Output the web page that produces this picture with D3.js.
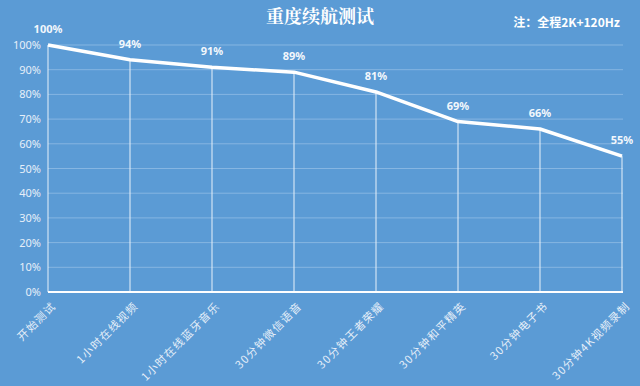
<!DOCTYPE html>
<html>
<head>
<meta charset="utf-8">
<script src="https://cdn.jsdelivr.net/npm/d3@7"></script>
<style>
  html, body { margin: 0; padding: 0; background: #5b9bd5; }
  svg { display: block; }
</style>
</head>
<body>
<div id="chart"></div>
<script>
"use strict"

// chart data
var categories = ["开始测试", "1小时在线视频", "1小时在线蓝牙音乐", "30分钟微信语音",
                  "30分钟王者荣耀", "30分钟和平精英", "30分钟电子书", "30分钟4K视频录制"]
var battery = [100, 94, 91, 89, 81, 69, 66, 55]
var y_ticks = [0, 10, 20, 30, 40, 50, 60, 70, 80, 90, 100]
var title_text = "重度续航测试"
var note_text = "注：全程2K+120Hz"

var settings = {
    width: 640,
    height: 386,
    left: 48,
    right: 622,
    top: 45,
    bottom: 292
}

var svg = d3.select("#chart").append("svg")
    .attr("width", settings.width)
    .attr("height", settings.height)

svg.append("rect")
    .attr("width", settings.width)
    .attr("height", settings.height)
    .attr("fill", "#5b9bd5")

var x = d3.scalePoint()
    .domain(categories)
    .range([settings.left, settings.right])

var y = d3.scaleLinear()
    .domain([0, 100])
    .range([settings.bottom, settings.top])

// gridlines
svg.append("g")
    .selectAll("line")
    .data(y_ticks.filter(function (d) { return d > 0 }))
    .enter()
    .append("line")
    .attr("x1", settings.left)
    .attr("x2", settings.right + 1)
    .attr("y1", function (d) { return y(d) })
    .attr("y2", function (d) { return y(d) })
    .attr("stroke", "#86b6e2")
    .attr("stroke-width", 1)

// y axis labels
var yaxis = d3.axisLeft(y)
    .tickValues(y_ticks)
    .tickFormat(function (d) { return d + "%" })
    .tickSize(0)
    .tickPadding(7)

var gy = svg.append("g")
    .attr("transform", "translate(" + settings.left + ",0)")
    .call(yaxis)
gy.select(".domain").remove()
gy.selectAll("text")
    .attr("fill", "#e6eff9")
    .attr("font-family", "'Noto Sans', sans-serif")
    .attr("font-size", 11)

// drop lines
svg.append("g")
    .selectAll("line")
    .data(battery)
    .enter()
    .append("line")
    .attr("x1", function (d, i) { return x(categories[i]) })
    .attr("x2", function (d, i) { return x(categories[i]) })
    .attr("y1", function (d) { return y(d) })
    .attr("y2", settings.bottom)
    .attr("stroke", "#e8f1fa")
    .attr("stroke-width", 1)

// x axis baseline
svg.append("line")
    .attr("x1", settings.left)
    .attr("x2", settings.right + 1)
    .attr("y1", settings.bottom)
    .attr("y2", settings.bottom)
    .attr("stroke", "#ffffff")
    .attr("stroke-width", 2)

// x axis labels, rotated
svg.append("g")
    .selectAll("text")
    .data(categories)
    .enter()
    .append("text")
    .attr("transform", function (d) {
        return "translate(" + (x(d) + 6) + "," + (settings.bottom + 12) + ") rotate(-45)"
    })
    .attr("text-anchor", "end")
    .attr("dy", "0.35em")
    .attr("fill", "#e6eff9")
    .attr("font-family", "'Noto Sans CJK SC', sans-serif")
    .attr("font-size", 11)
    .attr("letter-spacing", 1.3)
    .text(function (d) { return d })

// the line
var linefunc = d3.line()
    .x(function (d, i) { return x(categories[i]) })
    .y(function (d) { return y(d) })

svg.append("path")
    .attr("d", linefunc(battery))
    .attr("fill", "none")
    .attr("stroke", "#ffffff")
    .attr("stroke-width", 3.5)
    .attr("stroke-linejoin", "round")

// value labels
svg.append("g")
    .selectAll("text")
    .data(battery)
    .enter()
    .append("text")
    .attr("x", function (d, i) { return x(categories[i]) })
    .attr("y", function (d) { return y(d) - 12 })
    .attr("text-anchor", "middle")
    .attr("fill", "#f2f7fc")
    .attr("font-family", "'Noto Sans', sans-serif")
    .attr("font-size", 11)
    .attr("font-weight", "bold")
    .text(function (d) { return d + "%" })

// title
svg.append("text")
    .attr("x", 320)
    .attr("y", 23)
    .attr("text-anchor", "middle")
    .attr("fill", "#ffffff")
    .attr("font-family", "'Noto Serif CJK SC', 'Noto Sans CJK SC', serif")
    .attr("font-size", 18)
    .attr("font-weight", "bold")
    .text(title_text)

// note
svg.append("text")
    .attr("x", 620)
    .attr("y", 27)
    .attr("text-anchor", "end")
    .attr("fill", "#ffffff")
    .attr("font-family", "'Noto Sans CJK SC', sans-serif")
    .attr("font-size", 12)
    .attr("font-weight", "bold")
    .text(note_text)
</script>
</body>
</html>
